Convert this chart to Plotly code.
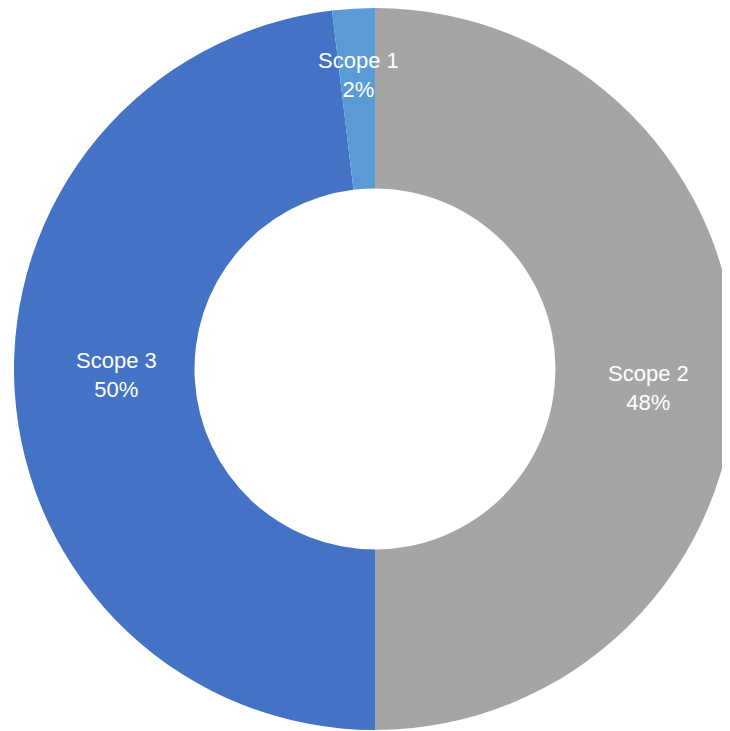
import plotly.graph_objects as go

# Data
categories = ["Scope 1", "Scope 2", "Scope 3"]
slice_shares = [1.9, 50.0, 48.1]          # angular extent of each slice as drawn
shown_percent = ["2%", "48%", "50%"]       # percentages as printed on the labels
colors = ["#5B9BD5", "#A5A5A5", "#4472C4"]

W, H = 730, 731
FONT = "Liberation Sans, Arial, sans-serif"
FS = 22

# pie placement (figure pixels; page has 8px body margin)
cx, cy, R = 367.0, 361.0, 361.0
dom_x = [(cx - R) / W, (cx + R) / W]
dom_y = [(H - (cy + R)) / H, 1.0]

# label centres relative to the pie centre (pixels, +y downward)
label_offsets = [(-17, -294), (273, 19), (-259, 6)]

# drawing order: Scope 2 from 12 o'clock clockwise, then Scope 3, then Scope 1
order = [1, 2, 0]

fig = go.Figure(
    go.Pie(
        labels=[categories[i] for i in order],
        values=[slice_shares[i] for i in order],
        text=[shown_percent[i] for i in order],
        textinfo="none",
        hole=0.5,
        sort=False,
        direction="clockwise",
        rotation=0,
        marker=dict(colors=[colors[i] for i in order], line=dict(width=0)),
        showlegend=False,
        hoverinfo="label+text",
        domain=dict(x=dom_x, y=dom_y),
    )
)

for cat, pct, (dx, dy) in zip(categories, shown_percent, label_offsets):
    fig.add_annotation(
        x=(cx + dx) / W, y=1 - (cy + dy) / H, xref="paper", yref="paper",
        text=f"{cat}<br>{pct}",
        showarrow=False, font=dict(family=FONT, size=FS, color="white"),
        xanchor="center", yanchor="middle", align="center",
    )

fig.update_layout(
    width=W,
    height=H,
    margin=dict(l=0, r=0, t=0, b=0),
    paper_bgcolor="white",
    plot_bgcolor="white",
)

fig.write_html("out.html")
